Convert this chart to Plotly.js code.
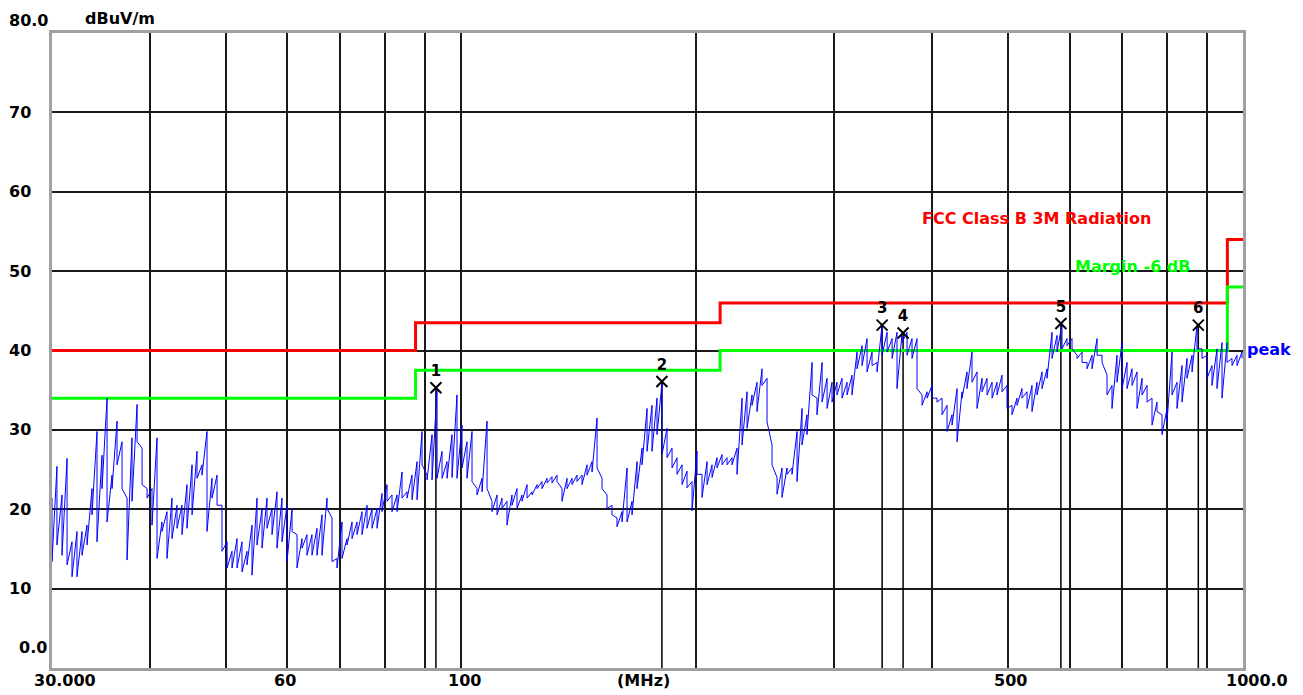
<!DOCTYPE html>
<html><head><meta charset="utf-8">
<script src="https://cdn.plot.ly/plotly-3.0.1.min.js"></script>
<style>html,body{margin:0;padding:0;background:#fff;}#chart{width:1303px;height:695px;}</style>
</head><body><div id="chart"></div>
<script>
// Sweep frequencies (MHz)
const freqMHz = [
30.00,30.44,30.90,31.36,31.82,32.29,32.77,33.26,33.75,34.25,
34.76,35.28,35.80,36.33,36.87,37.42,37.97,38.54,39.11,39.69,
40.27,40.87,41.47,42.09,42.71,43.35,43.99,44.64,45.31,45.98,
46.66,47.35,48.05,48.77,49.49,50.23,50.97,51.73,52.49,53.27,
54.06,54.86,55.68,56.50,57.34,58.19,59.05,59.93,60.82,61.72,
62.63,63.56,64.50,65.46,66.43,67.42,68.42,69.43,70.46,71.51,
72.57,73.65,74.74,75.85,76.97,78.12,79.27,80.45,81.64,82.86,
84.08,85.33,86.59,87.88,89.18,90.51,91.85,93.21,94.59,96.00,
97.41,98.85,100.32,101.81,103.32,104.85,106.41,107.99,109.59,111.22,
112.86,114.53,116.23,117.96,119.71,121.49,123.29,125.12,126.97,128.86,
130.76,132.70,134.67,136.67,138.70,140.75,142.84,144.96,147.11,149.30,
151.50,153.75,156.03,158.34,160.69,163.08,165.50,167.95,170.45,172.97,
175.53,178.13,180.78,183.46,186.18,188.94,191.75,194.59,197.48,200.41,
203.37,206.39,209.45,212.56,215.71,218.91,222.16,225.46,228.80,232.19,
235.62,239.11,242.66,246.26,249.92,253.63,257.39,261.21,265.08,269.02,
273.0,277.0,281.2,285.3,289.6,293.9,298.2,302.6,307.1,311.7,
316.3,321.0,325.8,330.6,335.5,340.5,345.5,350.7,355.9,361.1,
366.5,371.9,377.4,383.0,388.7,394.5,400.3,406.2,412.3,418.4,
424.6,430.9,437.3,443.7,450.3,457.0,463.8,470.7,477.7,484.7,
491.9,499.2,506.6,514.1,521.7,529.5,537.3,545.3,553.4,561.6,
569.9,578.4,586.9,595.6,604.5,613.5,622.6,631.8,641.2,650.7,
660.3,670.1,680.0,690.1,700.4,710.8,721.3,732.0,742.9,753.9,
765.0,776.3,787.9,799.6,811.4,823.5,835.7,848.1,860.7,873.4,
886.3,899.5,912.8,926.3,940.1,954.0,968.2,982.5,997.1
];
// Peak trace: highest reading in each frequency bin (dBuV/m)
const levelMax = [
21.4,25.4,21.8,26.4,15.9,17.2,17.2,18.0,22.6,29.8,
26.8,34.0,24.3,31.1,28.5,21.4,29.0,33.2,27.7,22.6,
22.6,29.0,18.4,19.7,21.4,20.5,20.5,23.1,25.6,27.3,
25.6,29.8,23.9,24.3,20.5,15.9,14.7,16.3,15.9,14.7,
18.0,21.4,20.1,21.4,20.1,22.2,21.4,20.5,20.1,16.8,
16.3,16.8,16.8,17.6,19.3,21.4,18.9,13.8,18.4,16.3,
18.4,18.4,19.7,20.5,20.1,20.1,22.0,23.1,21.8,21.8,
24.7,22.2,24.3,26.0,29.8,24.3,29.4,35.3,27.3,26.0,
29.4,34.4,30.6,28.5,29.8,22.6,23.9,31.1,21.0,21.8,
21.4,21.0,21.8,22.6,21.8,23.1,22.2,23.1,23.5,23.9,
24.1,24.3,22.6,23.9,23.9,24.3,24.3,25.6,26.0,31.5,
23.9,21.8,20.5,18.9,19.7,25.2,21.0,26.0,27.7,32.7,
33.1,34.0,36.0,30.2,27.7,26.5,25.6,24.8,23.5,27.3,
24.4,26.0,25.6,26.5,26.9,26.5,26.5,27.7,34.0,34.8,
34.4,36.0,37.7,36.5,28.1,24.0,25.2,25.2,25.2,29.8,
32.7,31.9,38.5,34.0,38.5,36.5,36.0,36.0,36.5,36.0,
36.9,39.8,40.6,41.5,39.8,38.5,43.2,42.3,41.5,42.3,
42.2,42.3,41.5,41.5,34.4,34.8,35.6,34.0,34.0,33.1,
31.9,35.2,34.8,37.3,39.8,37.3,36.5,36.5,36.0,36.0,
36.9,35.6,33.1,34.0,35.2,34.8,35.6,36.0,37.3,37.7,
42.3,41.9,43.4,41.5,41.5,39.4,39.8,38.5,39.4,41.5,
39.4,36.9,35.6,39.4,41.0,38.5,37.7,37.3,36.5,35.6,
34.0,33.5,31.9,32.7,39.8,36.0,38.1,39.0,39.4,43.2,
40.2,39.4,38.1,40.2,41.0,41.0,39.0,39.4,39.8
];
// Peak trace: lowest reading in each frequency bin (dBuV/m)
const levelMin = [
13.4,15.5,14.2,13.0,11.5,11.5,14.2,15.5,19.3,15.9,
22.6,18.4,22.6,25.6,22.6,13.6,21.0,28.5,23.1,21.4,
18.0,13.8,17.2,13.8,16.3,17.6,16.8,17.6,19.3,23.9,
24.3,17.2,21.4,20.5,14.7,12.6,12.6,12.6,12.1,13.0,
11.7,15.5,15.1,17.6,16.8,15.1,15.9,13.4,17.2,12.6,
15.1,14.2,14.2,14.2,14.2,20.1,13.4,12.6,13.8,15.5,
16.3,16.8,16.8,17.6,17.6,17.6,19.7,21.0,19.7,19.7,
21.4,21.4,21.2,21.2,25.6,23.7,23.7,23.9,23.9,23.9,
24.0,23.9,25.2,23.9,23.5,21.8,22.2,22.6,19.7,19.3,
20.1,18.0,20.5,20.1,21.0,21.4,21.8,22.6,22.6,23.3,
23.3,23.5,21.0,22.6,23.1,23.5,23.1,24.3,24.7,25.2,
22.6,20.1,19.3,17.8,18.4,18.4,19.3,22.6,25.6,27.3,
27.3,29.4,26.9,26.5,25.2,24.4,23.1,22.7,19.8,24.4,
21.5,23.1,24.0,25.2,25.6,25.6,25.6,24.4,28.1,30.2,
33.1,32.3,35.6,31.0,25.6,21.9,21.5,24.4,24.4,23.5,
28.1,29.4,34.4,31.9,33.5,32.7,33.5,34.4,34.0,34.4,
34.4,37.7,38.1,37.3,38.1,37.3,39.4,39.8,39.0,35.2,
41.0,39.4,39.0,35.2,33.1,34.0,34.0,33.5,31.9,29.8,
30.6,28.5,34.0,35.2,36.0,32.7,34.8,34.4,34.0,34.4,
34.8,32.7,31.9,33.1,34.0,32.7,32.3,34.4,35.2,36.5,
39.0,39.8,40.2,40.6,40.2,39.0,38.5,37.7,37.7,39.4,
38.5,34.4,32.7,36.0,35.2,35.2,35.6,32.7,34.4,33.5,
30.6,32.3,29.4,31.0,34.4,32.7,33.5,36.5,37.3,40.2,
39.0,36.5,35.6,35.2,34.0,38.5,38.1,38.1,39.0
];
// FCC Class B 3 m limit and -6 dB margin (step lines)
const limitFreq   = [30, 87.5, 214.5, 955, 1000];
const limitLevel  = [40, 43.5, 46, 54, 54];
const marginLevel = [34, 37.5, 40, 48, 48];
// Markers
const markerFreq  = [92.9, 180.7, 345.6, 367.6, 585.0, 876.7];
const markerLevel = [35.3, 36.1, 43.2, 42.2, 43.4, 43.2];
const markerLabel = ['1','2','3','4','5','6'];
// Grid and tick labels
const xGridVals = [40,50,60,70,80,90,100,200,300,400,500,600,700,800,900];
const yGridVals = [10,20,30,40,50,60,70];
const xTickVals = [30, 60, 100, 500, 1000];
const xTickText = ['30.000','60','100','500','1000.0'];
const yTickVals = [0,10,20,30,40,50,60,70,80];
const yTickText = ['0.0','10','20','30','40','50','60','70','80.0'];

const FONT = 'DejaVu Sans, Verdana, sans-serif';
const W = 1303, H = 695, L = 52, R = 60, T = 33, B = 27;
const plotW = W - L - R, plotH = H - T - B;
const px = p => (p - L) / plotW;      // pixel -> paper x
const py = p => (H - B - p) / plotH;  // pixel -> paper y

// peak trace drawn as max->min strokes per bin (spiky sweep look)
const traceX = [], traceY = [];
freqMHz.forEach((f, i) => {
  traceX.push(f, f);
  traceY.push(levelMax[i], levelMin[i]);
});

// marker drop lines
const dropX = [], dropY = [];
markerFreq.forEach((f, i) => { dropX.push(f, f, null); dropY.push(0, markerLevel[i], null); });

const traces = [
  {x: dropX, y: dropY, mode: 'lines', line: {color: '#000', width: 1.5}, hoverinfo: 'skip', showlegend: false},
  {x: limitFreq, y: limitLevel, mode: 'lines', line: {color: '#ff0000', width: 3, shape: 'hv'}, showlegend: false},
  {x: limitFreq, y: marginLevel, mode: 'lines', line: {color: '#00ff00', width: 3, shape: 'hv'}, showlegend: false},
  {x: traceX, y: traceY, mode: 'lines', line: {color: '#0000ff', width: 1}, showlegend: false},
  {x: markerFreq, y: markerLevel, mode: 'markers+text', text: markerLabel, textposition: 'top center',
   textfont: {family: FONT, size: 15, color: '#000', weight: 'bold'},
   marker: {symbol: 'x-thin-open', size: 11, color: '#000', line: {color: '#000', width: 2}},
   showlegend: false, cliponaxis: false}
];

const ann = [];
const txt = (text, x, y, opts) => Object.assign({text: '<b>' + text + '</b>', x: x, y: y, xref: 'paper', yref: 'paper',
  showarrow: false, xanchor: 'left', yanchor: 'middle', font: {family: FONT, size: 16, color: '#000'}}, opts || {});

// y labels
yTickVals.forEach((v, i) => {
  let xl = 7, yshift = 0;
  if (v === 0) { xl = 17; yshift = 21; }
  if (v === 80) { yshift = 13; }
  ann.push(txt(yTickText[i], px(xl), v, {yref: 'y', yshift: yshift}));
});
// x labels
const xShift = {30: 13, 60: -2, 100: 4, 500: 3, 1000: 14};
xTickVals.forEach((v, i) => {
  ann.push(txt(xTickText[i], Math.log10(v), 0, {xref: 'x', xanchor: 'center', yshift: -12, xshift: xShift[v]}));
});
ann.push(txt('(MHz)', px(643), 0, {xanchor: 'center', yshift: -12}));
ann.push(txt('dBuV/m', px(83), 1, {yshift: 15}));
ann.push(txt('FCC Class B 3M Radiation', px(920), py(218), {font: {family: FONT, size: 16, color: '#ff0000'}}));
ann.push(txt('Margin -6 dB', px(1073), py(266), {font: {family: FONT, size: 16, color: '#00ff00'}}));
ann.push(txt('peak', px(1245), py(349), {font: {family: FONT, size: 16, color: '#0000ff'}}));

const layout = {
  width: W, height: H,
  margin: {l: L, r: R, t: T, b: B, pad: 0},
  paper_bgcolor: '#fff', plot_bgcolor: '#fff',
  showlegend: false,
  xaxis: {type: 'log', range: [Math.log10(30), Math.log10(1000)], tickvals: xGridVals, showticklabels: false,
          ticks: '', showgrid: true, gridcolor: '#1a1a1a', gridwidth: 2, zeroline: false,
          showline: true, mirror: true, linecolor: '#a0a0a0', linewidth: 3},
  yaxis: {range: [0, 80], tickvals: yGridVals, showticklabels: false, ticks: '',
          showgrid: true, gridcolor: '#1a1a1a', gridwidth: 2, zeroline: false,
          showline: true, mirror: true, linecolor: '#a0a0a0', linewidth: 3},
  annotations: ann
};

Plotly.newPlot('chart', traces, layout, {staticPlot: true, displayModeBar: false});
</script>
</body></html>
